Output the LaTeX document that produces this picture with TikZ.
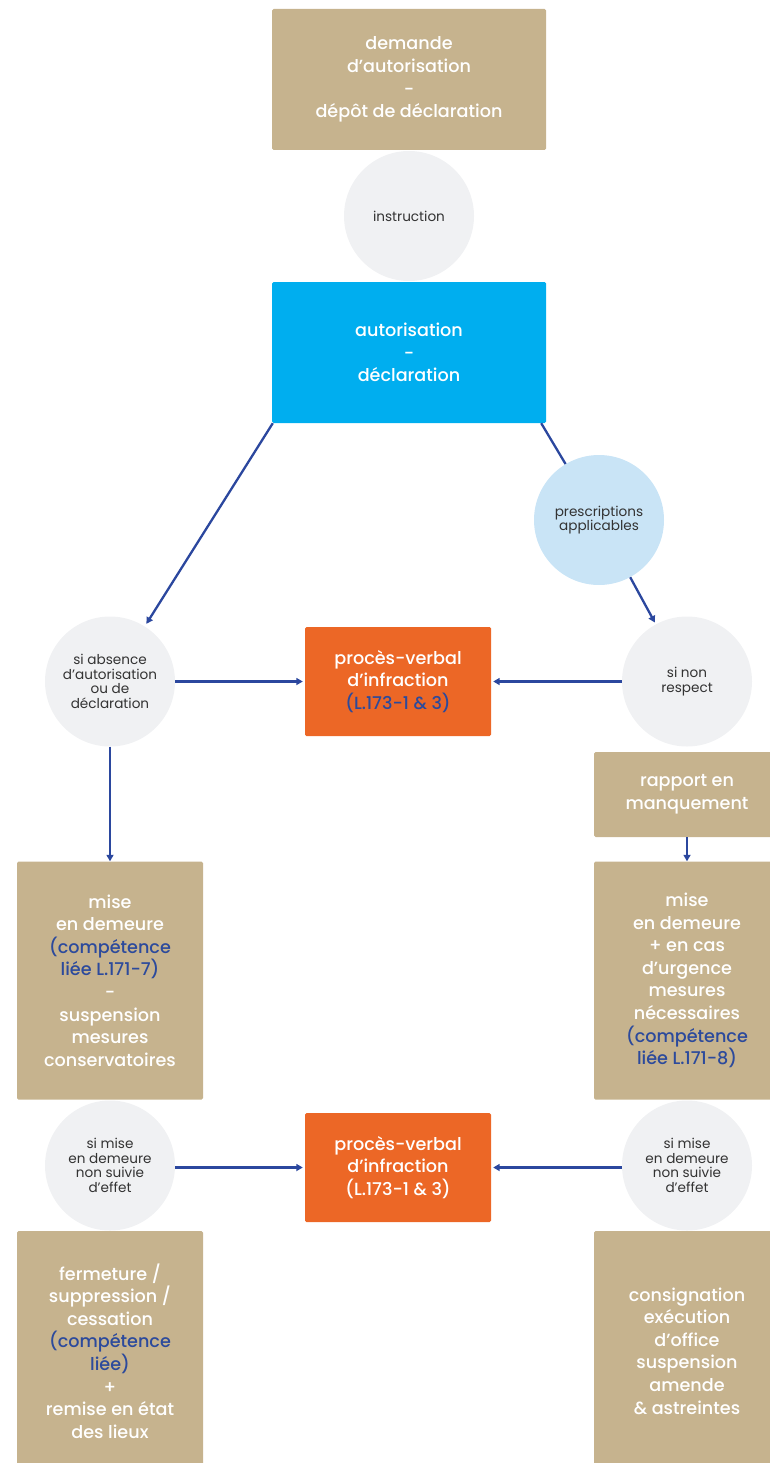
\documentclass[tikz,border=0pt]{standalone}
\usepackage{fontspec}
\setmainfont{Poppins}
\newfontfamily\medfont{Poppins Medium}
\usetikzlibrary{arrows.meta}
\definecolor{tanc}{HTML}{C6B38E}
\definecolor{bluec}{HTML}{00AEEF}
\definecolor{lbluec}{HTML}{C9E4F6}
\definecolor{greyc}{HTML}{F0F1F3}
\definecolor{orangec}{HTML}{EC6726}
\definecolor{arrc}{HTML}{2B479E}
\definecolor{dbluec}{HTML}{2C4A9C}
\definecolor{txtc}{HTML}{333333}
\begin{document}
\begin{tikzpicture}[x=1pt,y=-1pt,
  boxst/.style={rectangle, rounded corners=1.5pt, inner sep=0pt, text=white, align=center,
    font=\medfont\fontsize{17.6}{22.6}\selectfont},
  tanbox/.style={boxst, fill=tanc},
  bluebox/.style={boxst, fill=bluec},
  orbox/.style={boxst, fill=orangec},
  circst/.style={circle, minimum size=130pt, inner sep=0pt, align=center, text=txtc,
    font=\fontsize{13.6}{14.6}\selectfont},
  greycirc/.style={circst, fill=greyc},
  bluecirc/.style={circst, fill=lbluec},
  lnk/.style={draw=arrc, line width=2.3pt},
  arr/.style={lnk, -{Triangle[length=6.5pt,width=7pt]}, shorten >=2pt}
]
\useasboundingbox (0,0) rectangle (770,1463);

\node[tanbox, minimum width=274pt, minimum height=141pt] (dem) at (409,79.5)
  {demande\\d’autorisation\\-\\dépôt de déclaration};
\node[greycirc] (instr) at (409,216) {instruction};
\node[bluebox, minimum width=274pt, minimum height=141pt] (aut) at (409,352.5)
  {autorisation\\-\\déclaration};
\node[bluecirc] (presc) at (599,520) {prescriptions\\applicables};
\node[greycirc] (abs) at (110,681.5) {si absence\\d’autorisation\\ou de\\déclaration};
\node[greycirc] (sinon) at (687,681.5) {si non\\respect};
\node[orbox, minimum width=186pt, minimum height=109pt] (pv1) at (398,681.5)
  {procès-verbal\\d’infraction\\\textcolor{dbluec}{(L.173-1 \& 3)}};
\node[tanbox, minimum width=186pt, minimum height=85pt] (rap) at (687,794.5)
  {rapport en\\manquement};
\node[tanbox, minimum width=186pt, minimum height=238pt] (mise1) at (110,980.5)
  {mise\\en demeure\\\textcolor{dbluec}{(compétence}\\\textcolor{dbluec}{liée L.171-7)}\\-\\suspension\\mesures\\conservatoires};
\node[tanbox, minimum width=186pt, minimum height=238pt] (mise2) at (687,980.5)
  {mise\\en demeure\\+ en cas\\d’urgence\\mesures\\nécessaires\\\textcolor{dbluec}{(compétence}\\\textcolor{dbluec}{liée L.171-8)}};
\node[greycirc] (mis1) at (110,1165.5) {si mise\\en demeure\\non suivie\\d’effet};
\node[greycirc] (mis2) at (687,1165.5) {si mise\\en demeure\\non suivie\\d’effet};
\node[orbox, minimum width=186pt, minimum height=109pt] (pv2) at (398,1167.5)
  {procès-verbal\\d’infraction\\(L.173-1 \& 3)};
\node[tanbox, minimum width=186pt, minimum height=240pt] (fer) at (110,1351)
  {fermeture /\\suppression /\\cessation\\\textcolor{dbluec}{(compétence}\\\textcolor{dbluec}{liée)}\\+\\remise en état\\des lieux};
\node[tanbox, minimum width=186pt, minimum height=240pt] (cons) at (687,1351)
  {consignation\\exécution\\d’office\\suspension\\amende\\\& astreintes};

\draw[arr, shorten >=3pt] ([xshift=1pt]aut.south west) -- (abs);
\draw[lnk] ([xshift=-5pt]aut.south east) -- (presc);
\draw[arr] (presc) -- (sinon);
\draw[arr] (abs) -- (pv1);
\draw[arr] (sinon) -- (pv1);
\draw[arr, shorten >=0pt] (abs) -- (mise1);
\draw[arr, shorten >=0pt] (rap) -- (mise2);
\draw[arr] (mis1.east |- pv2) -- (pv2.west);
\draw[arr] (mis2.west |- pv2) -- (pv2.east);
\end{tikzpicture}
\end{document}
